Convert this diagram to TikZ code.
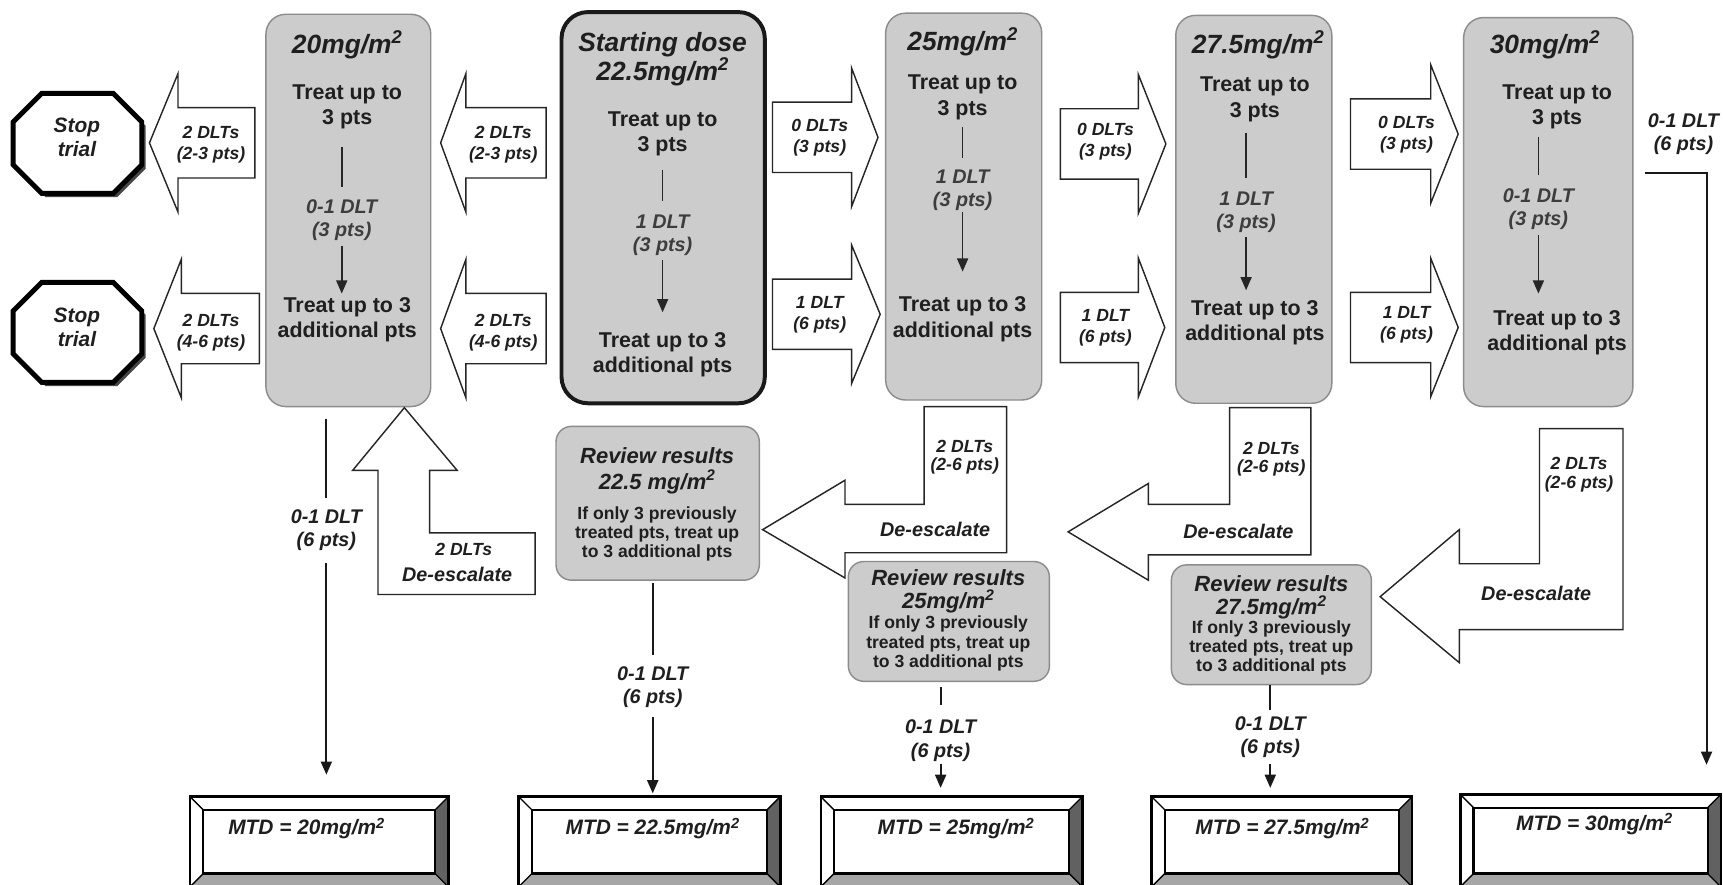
\documentclass[tikz,border=0pt]{standalone}
\usepackage{fontspec}
\setmainfont{Liberation Sans}
\usetikzlibrary{arrows.meta}

\newcommand\FntTitle{\fontsize{24}{26}\selectfont\bfseries\itshape}
\newcommand\FntTreat{\fontsize{19.5}{23}\selectfont\bfseries}
\newcommand\FntDlt{\fontsize{18}{21}\selectfont\bfseries\itshape}
\newcommand\FntArr{\fontsize{16}{19}\selectfont\bfseries\itshape}
\newcommand\FntRev{\fontsize{20}{22}\selectfont\bfseries\itshape}
\newcommand\FntSmall{\fontsize{16}{17.5}\selectfont\bfseries}
\newcommand\FntMtd{\fontsize{19}{22}\selectfont\bfseries\itshape}
\newcommand\FntStop{\fontsize{19}{22}\selectfont\bfseries\itshape}
\newcommand\SqTwo{\textsuperscript{2}}

\tikzset{
 graybox/.style={draw=black!45, line width=1.3pt, fill=black!20, rounded corners=18pt, inner sep=0pt, outer sep=0pt},
 startbox/.style={draw=black!90, line width=3.6pt, fill=black!20, rounded corners=24pt, inner sep=0pt, outer sep=0pt},
 revbox/.style={graybox, rounded corners=14pt},
 txt/.style={inner sep=0pt, outer sep=0pt, align=center, text=black!88},
 ttl/.style={txt, font=\FntTitle},
 tu/.style={txt, font=\FntTreat},
 dl/.style={txt, font=\FntDlt, text=black!76},
 dlb/.style={txt, font=\FntDlt},
 al/.style={txt, font=\FntArr},
 rt/.style={txt, font=\FntRev},
 rs/.style={txt, font=\FntSmall},
 mt/.style={txt, font=\FntMtd},
 st/.style={txt, font=\FntStop},
 barrow/.style={draw=black!85, line width=1.3pt, fill=white, line join=miter},
 conn/.style={draw=black!90, line width=1.8pt},
 inl/.style={draw=black!85, line width=1.5pt},
 arr/.style={-{Triangle[length=12pt,width=10pt]}},
 octo/.style={draw=black, line width=4.5pt, fill=white, line join=miter},
}

% box node from corners
\newcommand\BoxAt[6]{\node[#6, minimum width={#4-#2}, minimum height={#5-#3}] (#1) at ({(#2+#4)/2},{(#3+#5)/2}) {};}
% block arrow: tip x, head back x, tail x, centre y
\newcommand\BArrow[4]{\draw[barrow] (#1,#4) -- (#2,{#4-63}) -- (#2,{#4-32}) -- (#3,{#4-32}) -- (#3,{#4+32}) -- (#2,{#4+32}) -- (#2,{#4+63}) -- cycle;}
% stop octagon: name, cx, cy
\newcommand\Octa[3]{%
 \fill[black!72] ({#2-32.5+3.5},{#3-45.5+3.5}) -- ({#2+32.5+3.5},{#3-45.5+3.5}) -- ({#2+58.5+3.5},{#3-19.5+3.5}) -- ({#2+58.5+3.5},{#3+19.5+3.5}) -- ({#2+32.5+3.5},{#3+45.5+3.5}) -- ({#2-32.5+3.5},{#3+45.5+3.5}) -- ({#2-58.5+3.5},{#3+19.5+3.5}) -- ({#2-58.5+3.5},{#3-19.5+3.5}) -- cycle;
 \draw[octo] ({#2-32.5},{#3-45.5}) -- ({#2+32.5},{#3-45.5}) -- ({#2+58.5},{#3-19.5}) -- ({#2+58.5},{#3+19.5}) -- ({#2+32.5},{#3+45.5}) -- ({#2-32.5},{#3+45.5}) -- ({#2-58.5},{#3+19.5}) -- ({#2-58.5},{#3-19.5}) -- cycle;
 \node[inner sep=0pt, minimum width=117, minimum height=91] (#1) at (#2,#3) {};}
% MTD bevel box: name, x1, x2, y1, text x, text y, text
\newcommand\MtdBox[7]{%
 \fill[white] (#2,#4) rectangle (#3,807);
 \fill[black!35] (#2,807) -- (#3,807) -- ({#3-12},795) -- ({#2+12},795) -- cycle;
 \fill[black!62] (#3,#4) -- (#3,807) -- ({#3-12},795) -- ({#3-12},{#4+12}) -- cycle;
 \draw[line width=1.2pt] (#2,#4) -- ({#2+12},{#4+12}) (#3,#4) -- ({#3-12},{#4+12}) (#2,807) -- ({#2+12},795) (#3,807) -- ({#3-12},795);
 \draw[line width=2pt] ({#2+12},{#4+12}) rectangle ({#3-12},795);
 \draw[line width=2.4pt] (#2,#4) rectangle (#3,807);
 \node[inner sep=0pt, outer sep=0pt, minimum width={#3-#2}, minimum height={807-#4}] (#1) at ({(#2+#3)/2},{(#4+807)/2}) {};
 \node[mt] (#1t) at (#5,#6) {#7};}

\begin{document}
\begin{tikzpicture}[x=1pt,y=-1pt]
\useasboundingbox (0,0) rectangle (1568,805);
\clip (0,0) rectangle (1568,805);
\fill[white] (0,0) rectangle (1568,805);

% ---------- dose boxes ----------
\BoxAt{b20}{242}{13}{392}{370}{graybox}
\BoxAt{bst}{511}{11}{696}{367}{startbox}
\BoxAt{b25}{806}{12}{948}{364}{graybox}
\BoxAt{b275}{1070}{14}{1212}{367}{graybox}
\BoxAt{b30}{1332}{16}{1486}{370}{graybox}

% 20
\node[ttl] (b20t) at (316,41) {20mg/m\SqTwo};
\node[tu] (b20a) at (316,97) {Treat up to\\3 pts};
\node[dl] (b20d) at (311,200.5) {0-1 DLT\\(3 pts)};
\node[tu] (b20b) at (316,291) {Treat up to 3\\additional pts};
\draw[inl, shorten <=16.5pt, shorten >=11.6pt] (b20d |- b20a.south) -- (b20d.north);
\draw[inl, arr, shorten <=4.6pt, shorten >=3.5pt] (b20d.south) -- (b20d |- b20b.north);
% start
\node[ttl] (bstt) at (603,54) {Starting dose\\22.5mg/m\SqTwo};
\node[tu] (bsta) at (603,122) {Treat up to\\3 pts};
\node[dl] (bstd) at (603,214.5) {1 DLT\\(3 pts)};
\node[tu] (bstb) at (603,322.5) {Treat up to 3\\additional pts};
\draw[inl, shorten <=12.5pt, shorten >=12.6pt] (bstd |- bsta.south) -- (bstd.north);
\draw[inl, arr, shorten <=3.6pt, shorten >=18pt] (bstd.south) -- (bstd |- bstb.north);
% 25
\node[ttl] (b25t) at (876,38) {25mg/m\SqTwo};
\node[tu] (b25a) at (876,88.5) {Treat up to\\3 pts};
\node[dl] (b25d) at (876,173) {1 DLT\\(3 pts)};
\node[tu] (b25b) at (876,290.5) {Treat up to 3\\additional pts};
\draw[inl, shorten <=7pt, shorten >=11.1pt] (b25d |- b25a.south) -- (b25d.north);
\draw[inl, arr, shorten <=1.1pt, shorten >=23pt] (b25d.south) -- (b25d |- b25b.north);
% 27.5
\node[ttl] (b275t) at (1145,41) {27.5mg/m\SqTwo};
\node[tu] (b275a) at (1142,90.5) {Treat up to\\3 pts};
\node[dl] (b275d) at (1134,193) {1 DLT\\(3 pts)};
\node[tu] (b275b) at (1142,293.5) {Treat up to 3\\additional pts};
\draw[inl, shorten <=10pt, shorten >=12.1pt] (b275d |- b275a.south) -- (b275d.north);
\draw[inl, arr, shorten <=4.1pt, shorten >=9pt] (b275d.south) -- (b275d |- b275b.north);
% 30
\node[ttl] (b30t) at (1406,41) {30mg/m\SqTwo};
\node[tu] (b30a) at (1417,97) {Treat up to\\3 pts};
\node[dl] (b30d) at (1400,190.5) {0-1 DLT\\(3 pts)};
\node[tu] (b30b) at (1417,303) {Treat up to 3\\additional pts};
\draw[inl, shorten <=7.5pt, shorten >=12.6pt] (b30d |- b30a.south) -- (b30d.north);
\draw[inl, arr, shorten <=4.6pt, shorten >=15.5pt] (b30d.south) -- (b30d |- b30b.north);

% ---------- stop octagons ----------
\Octa{oct1}{70.5}{130.5}
\node[st] (oct1t) at (70,125) {Stop\\trial};
\Octa{oct2}{70.5}{302.5}
\node[st] (oct2t) at (70,298) {Stop\\trial};

% ---------- horizontal block arrows ----------
\BArrow{136}{162}{232}{130}
\node[al] (a1) at (192,131.7) {2 DLTs\\(2-3 pts)};
\BArrow{140}{165}{236}{299}
\node[al] (a2) at (192,302.7) {2 DLTs\\(4-6 pts)};
\BArrow{401}{424}{497}{130}
\node[al] (a3) at (458,131.7) {2 DLTs\\(2-3 pts)};
\BArrow{401}{424}{497}{299}
\node[al] (a4) at (458,302.7) {2 DLTs\\(4-6 pts)};
\BArrow{799}{775}{703}{125}
\node[al] (a5) at (746,125.7) {0 DLTs\\(3 pts)};
\BArrow{801}{775}{703}{286}
\node[al] (a6) at (746,286.7) {1 DLT\\(6 pts)};
\BArrow{1061}{1036}{965}{131}
\node[al] (a7) at (1006,129.2) {0 DLTs\\(3 pts)};
\BArrow{1060}{1036}{965}{298}
\node[al] (a8) at (1006,298.2) {1 DLT\\(6 pts)};
\BArrow{1327}{1302}{1229}{122}
\node[al] (a9) at (1280,122.2) {0 DLTs\\(3 pts)};
\BArrow{1327}{1302}{1229}{298}
\node[al] (a10) at (1280,295.2) {1 DLT\\(6 pts)};

% ---------- de-escalation arrows ----------
\draw[barrow] (368,371) -- (416,428) -- (391,428) -- (391,485) -- (487,485) -- (487,541) -- (344,541) -- (344,428) -- (321,428) -- cycle;
\node[al] (u1a) at (422,500) {2 DLTs};
\node[dlb] (u1b) at (416,523) {De-escalate};

\draw[barrow] (841,370) -- (916,370) -- (916,503) -- (769,503) -- (769,526) -- (694,482) -- (769,437) -- (769,459) -- (841,459) -- cycle;
\node[al, font=\fontsize{16}{17}\selectfont\bfseries\itshape] (l1a) at (878,416) {2 DLTs\\(2-6 pts)};
\node[dlb] (l1b) at (851,482) {De-escalate};

\draw[barrow] (1119,371) -- (1193,371) -- (1193,505) -- (1045,505) -- (1045,528) -- (972,484) -- (1045,440) -- (1045,459) -- (1119,459) -- cycle;
\node[al, font=\fontsize{16}{17}\selectfont\bfseries\itshape] (l2a) at (1157,418) {2 DLTs\\(2-6 pts)};
\node[dlb] (l2b) at (1127,484) {De-escalate};

\draw[barrow] (1401,390) -- (1477,390) -- (1477,573) -- (1328,573) -- (1328,603) -- (1256,543) -- (1328,482) -- (1328,513) -- (1401,513) -- cycle;
\node[al, font=\fontsize{16}{17}\selectfont\bfseries\itshape] (l3a) at (1437,432) {2 DLTs\\(2-6 pts)};
\node[dlb] (l3b) at (1398,540) {De-escalate};

% ---------- review boxes ----------
\BoxAt{r225}{506}{388}{691}{528}{revbox}
\node[rt, font=\fontsize{20}{23}\selectfont\bfseries\itshape] (r225a) at (598,428.5) {Review results\\22.5 mg/m\SqTwo};
\node[rs] (r225b) at (598,486) {If only 3 previously\\treated pts, treat up\\to 3 additional pts};
\BoxAt{r25}{772}{511}{955}{620}{revbox}
\node[rt, font=\fontsize{20}{21}\selectfont\bfseries\itshape] (r25a) at (863,538.5) {Review results\\25mg/m\SqTwo};
\node[rs] (r25b) at (863,585.6) {If only 3 previously\\treated pts, treat up\\to 3 additional pts};
\BoxAt{r275}{1066}{514}{1248}{623}{revbox}
\node[rt, font=\fontsize{20}{21}\selectfont\bfseries\itshape] (r275a) at (1157,543.5) {Review results\\27.5mg/m\SqTwo};
\node[rs, font=\fontsize{16}{17}\selectfont\bfseries] (r275b) at (1157,589.6) {If only 3 previously\\treated pts, treat up\\to 3 additional pts};

% ---------- MTD boxes ----------
\MtdBox{m20}{173}{408}{725}{279}{754}{MTD = 20mg/m\SqTwo}
\MtdBox{m225}{472}{710}{725}{594}{754}{MTD = 22.5mg/m\SqTwo}
\MtdBox{m25}{747}{985}{725}{870}{754}{MTD = 25mg/m\SqTwo}
\MtdBox{m275}{1048}{1285}{725}{1167}{754}{MTD = 27.5mg/m\SqTwo}
\MtdBox{m30}{1329}{1566}{723}{1451}{750}{MTD = 30mg/m\SqTwo}

% ---------- 0-1 DLT (6 pts) connectors ----------
\node[dlb] (l20) at (297,482.5) {0-1 DLT\\(6 pts)};
\draw[conn, shorten <=11pt, shorten >=10.6pt] (l20 |- b20.south) -- (l20.north);
\draw[conn, arr, shorten <=11.6pt, shorten >=20pt] (l20.south) -- (l20 |- m20.north);

\node[dlb] (l225) at (594,625) {0-1 DLT\\(6 pts)};
\draw[conn, shorten <=3pt, shorten >=10pt] (l225 |- r225.south) -- (l225.north);
\draw[conn, arr, shorten <=9pt, shorten >=3pt] (l225.south) -- (l225 |- m225.north);

\node[dlb] (l25) at (856,674) {0-1 DLT\\(6 pts)};
\draw[conn, shorten <=5pt, shorten >=14pt] (l25 |- r25.south) -- (l25.north);
\draw[conn, arr, shorten <=3pt, shorten >=8pt] (l25.south) -- (l25 |- m25.north);

\node[dlb] (l275) at (1156,671) {0-1 DLT\\(6 pts)};
\draw[conn, shorten <=0.5pt, shorten >=6pt] (l275 |- r275.south) -- (l275.north);
\draw[conn, arr, shorten <=6pt, shorten >=8pt] (l275.south) -- (l275 |- m275.north);

\node[dlb] (l30) at (1532,122.5) {0-1 DLT\\(6 pts)};
\coordinate (c30) at (1497,157);
\coordinate (e30) at (1553,723);
\draw[conn, arr, shorten >=27pt] (c30) -| (e30);
\end{tikzpicture}
\end{document}
